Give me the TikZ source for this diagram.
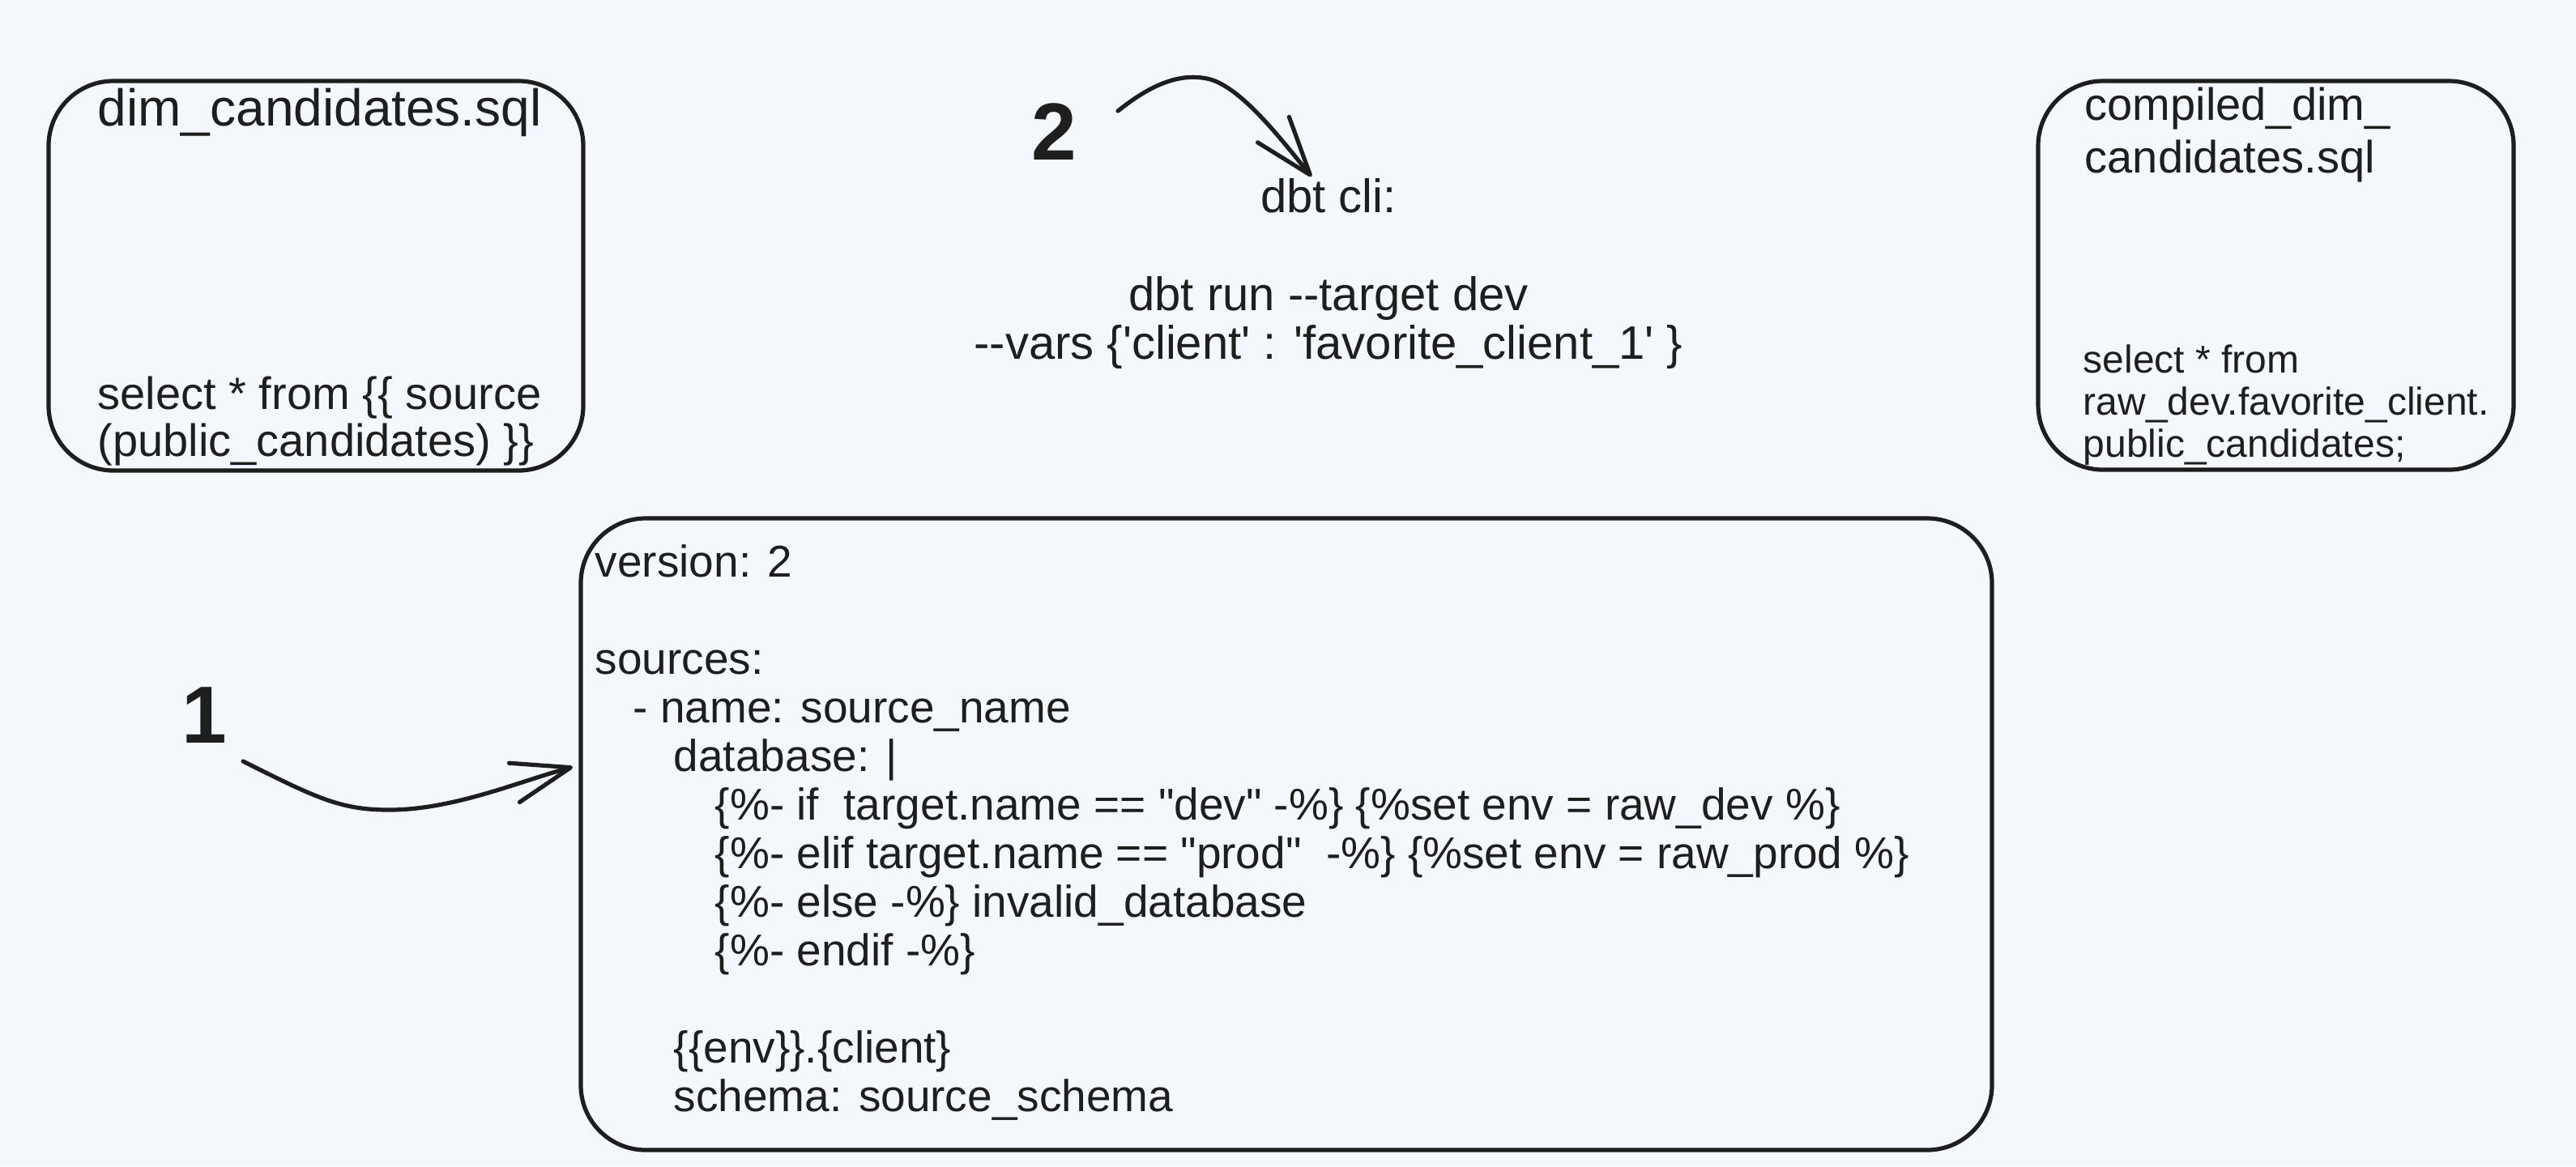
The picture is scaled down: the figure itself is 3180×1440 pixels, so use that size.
\documentclass[tikz,border=0pt]{standalone}
\usepackage{fontspec}
\setmainfont{Liberation Sans}[Ligatures=TeXOff]
\usetikzlibrary{arrows.meta}
\definecolor{bg}{HTML}{F4F8FC}
\definecolor{ink}{HTML}{1E1E1E}
\begin{document}
\begin{tikzpicture}[x=0.25pt,y=-0.25pt,
  box/.style={draw=ink, line width=1.3pt, rounded corners=20pt, inner sep=0pt},
  txt/.style={inner sep=0pt, anchor=base west, text=ink},
  ctxt/.style={inner sep=0pt, anchor=base, text=ink},
  conn/.style={draw=ink, line width=1.3pt, line cap=round, line join=round,
    -{Straight Barb[length=18pt,width=12.5pt,round]}},
  num/.style={inner sep=0pt, anchor=base, text=ink, font=\fontsize{25pt}{30pt}\selectfont\bfseries},
  big/.style={txt, font=\fontsize{13.75pt}{15pt}\selectfont},
  mid/.style={ctxt, font=\fontsize{14.5pt}{15pt}\selectfont},
]
\fill[bg] (0,0) rectangle (3180,1440);
\useasboundingbox (0,0) rectangle (3180,1440);

% left box
\node[box, minimum width=165pt, minimum height=120.25pt] (leftbox) at (390,340.5) {};
\node[txt, font=\fontsize{16pt}{20pt}\selectfont] (lt) at (120,155) {dim\_candidates.sql};
\node[txt, font=\fontsize{14pt}{15pt}\selectfont] (lb1) at (120,505) {select * from \{\{ source};
\node[txt, font=\fontsize{14pt}{15pt}\selectfont] (lb2) at (120,563) {(public\_candidates) \}\}};

% right box
\node[box, minimum width=146.75pt, minimum height=120pt] (rightbox) at (2809.5,340) {};
\node[txt, font=\fontsize{14pt}{15pt}\selectfont] (rt1) at (2573,148) {compiled\_dim\_};
\node[txt, font=\fontsize{14pt}{15pt}\selectfont] (rt2) at (2573,213) {candidates.sql};
\node[txt, font=\fontsize{12pt}{13pt}\selectfont] (rb1) at (2571,460) {select * from};
\node[txt, font=\fontsize{12pt}{13pt}\selectfont] (rb2) at (2571,512) {raw\_dev.favorite\_client.};
\node[txt, font=\fontsize{12pt}{13pt}\selectfont] (rb3) at (2571,564) {public\_candidates;};

% middle cli text
\node[mid] (cli1) at (1640,262) {dbt cli:};
\node[mid] (cli2) at (1640,383) {dbt run --target dev};
\node[mid] (cli3) at (1640,443) {--vars \{'client' : 'favorite\_client\_1' \}};

% big yaml box
\node[box, minimum width=435.5pt, minimum height=195pt] (yamlbox) at (1588,1030) {};
\node[big] (y0) at (734,712) {version: 2};
\node[big] (y2) at (734,832) {sources:};
\node[big] (y3) at (781,892) {- name: source\_name};
\node[big] (y4) at (831,952) {database: |};
\node[big] (y5) at (882,1012) {\{\%- if\ \ target.name == "dev" -\%\} \{\%set env = raw\_dev \%\}};
\node[big] (y6) at (882,1072) {\{\%- elif target.name == "prod"\ \ -\%\} \{\%set env = raw\_prod \%\}};
\node[big] (y7) at (882,1132) {\{\%- else -\%\} invalid\_database};
\node[big] (y8) at (882,1192) {\{\%- endif -\%\}};
\node[big] (y10) at (831,1312) {\{\{env\}\}.\{client\}};
\node[big] (y11) at (831,1372) {schema: source\_schema};

% step numbers
\node[num] (n1) at (252,917) {1};
\node[num] (n2) at (1301,197) {2};

% arrows
\coordinate (a1s) at (300,940);
\coordinate (a1e) at (707,947);
\draw[conn] (a1s) .. controls (390,985) and (420,1000) .. (480,1000)
  .. controls (560,1000) and (640,965) .. (a1e);
\coordinate (a2s) at (1380,137);
\coordinate (a2e) at (1619,218);
\draw[conn] (a2s) .. controls (1420,105) and (1455,90) .. (1490,97)
  .. controls (1530,105) and (1580,170) .. (a2e);
\end{tikzpicture}
\end{document}
